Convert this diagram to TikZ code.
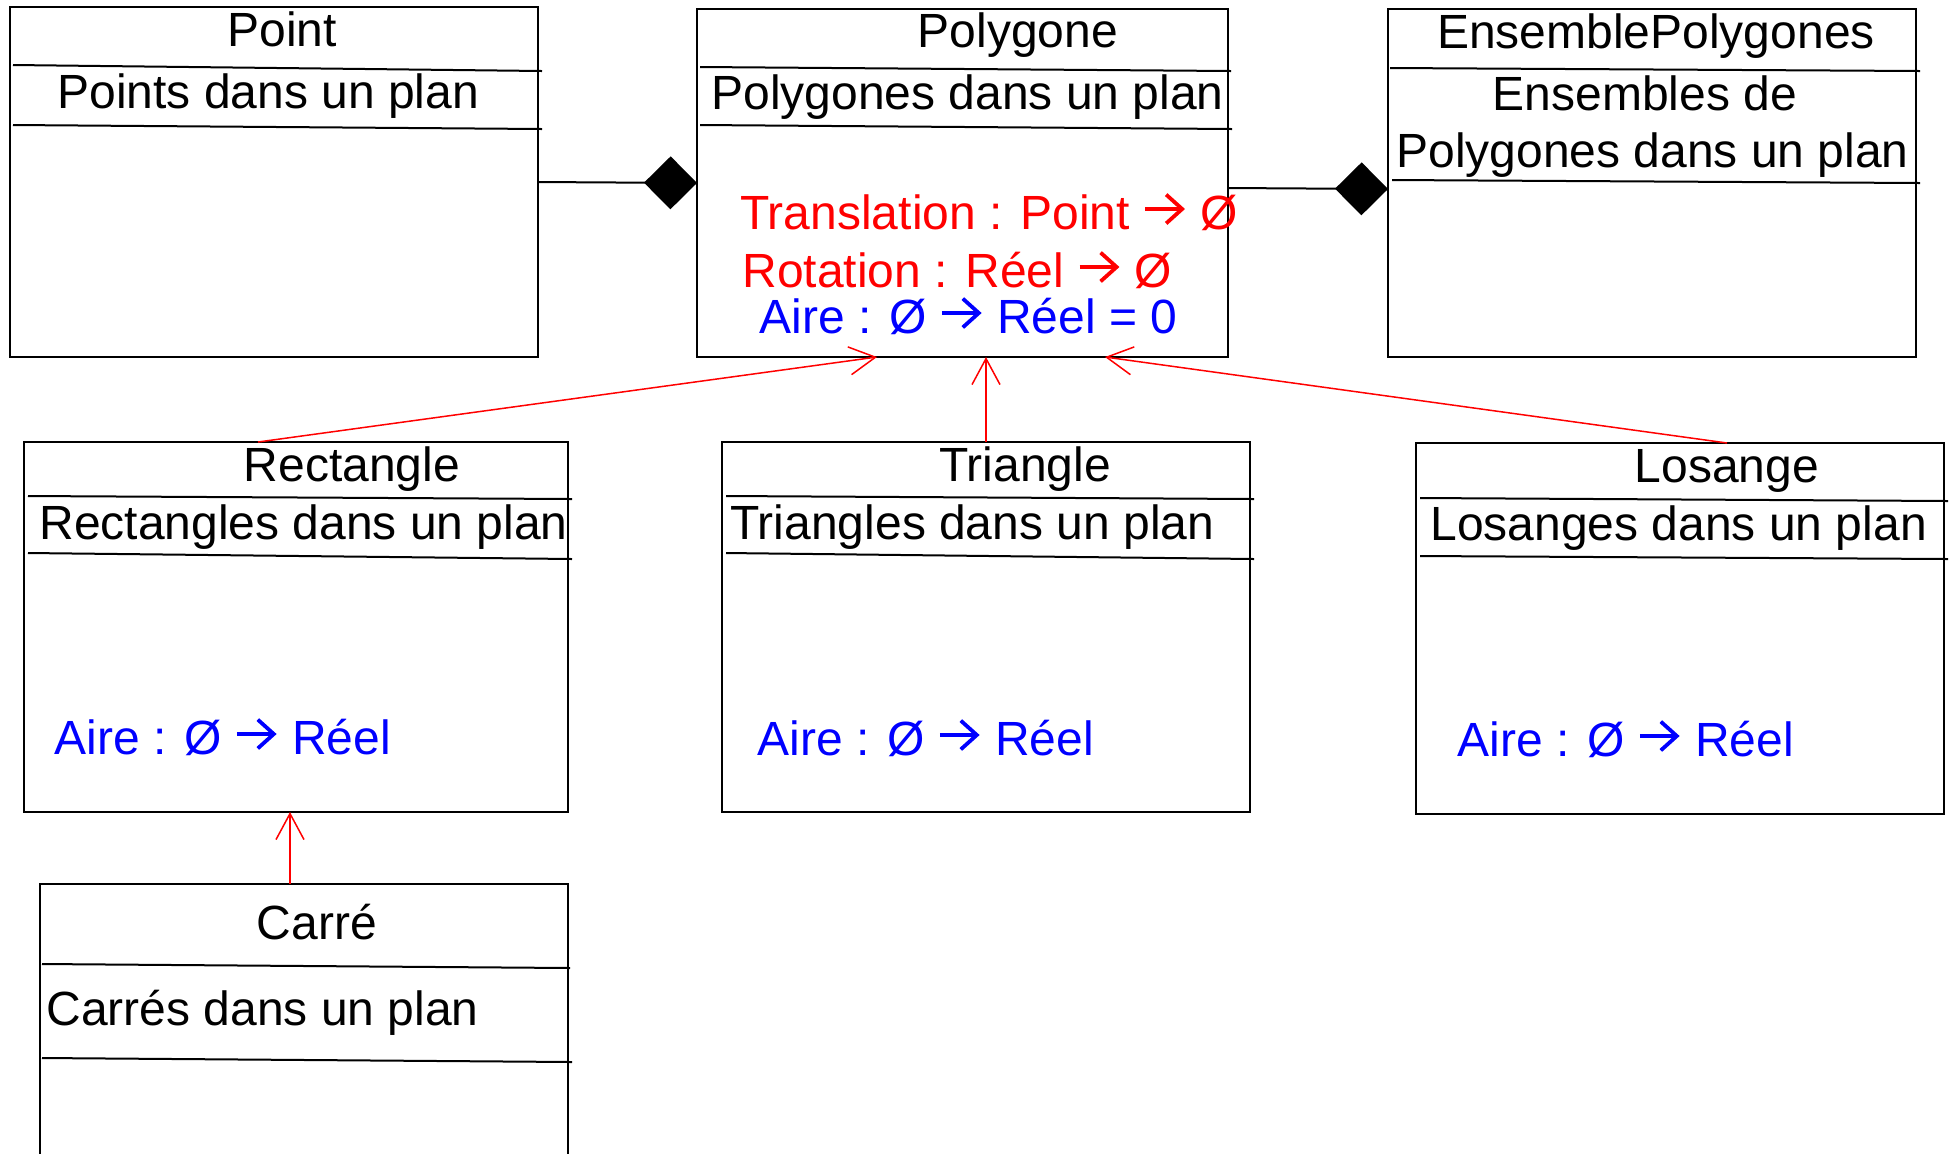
\documentclass[tikz,border=0pt]{standalone}
\usepackage{fontspec}
\setmainfont{Liberation Sans}
\usetikzlibrary{arrows.meta,calc}
\newcommand{\rarr}{\tikz[baseline=0pt,x=1pt,y=1pt]{\draw[line width=1.9pt] (0,10) -- (18,10); \draw[line width=1.9pt, miter limit=10] (10.5,2.8) -- (18.5,10) -- (10.5,17.2);}\kern1.5pt}
\definecolor{umlred}{RGB}{255,0,0}
\definecolor{umlblue}{RGB}{0,0,255}
\begin{document}
\begin{tikzpicture}[x=0.5pt,y=-0.5pt,
  umlbox/.style={draw, line width=1pt, anchor=north west, inner sep=0pt, outer sep=0pt},
  sepline/.style={line width=1pt},
  txt/.style={inner sep=0pt, font=\fontsize{24}{28}\selectfont},
  ttl/.style={txt, anchor=base},
  lbl/.style={txt, anchor=base west},
  redop/.style={lbl, text=umlred},
  blueop/.style={lbl, text=umlblue},
  compo/.style={line width=1pt, -{Diamond[length=26.5pt,width=26.5pt]}},
  inherit/.style={draw=umlred, line width=0.75pt, -{Straight Barb[length=13pt,width=14pt]}}
]
\useasboundingbox (0,0) rectangle (1954,1153);
\clip (0,0) rectangle (1954,1153);
\fill[white] (0,0) rectangle (1954,1153);

% boxes
\node[umlbox, minimum width=264pt, minimum height=175pt] (point) at (10,7) {};
\node[umlbox, minimum width=265.5pt, minimum height=174pt] (poly) at (697,9) {};
\node[umlbox, minimum width=264pt, minimum height=174pt] (ens) at (1388,9) {};
\node[umlbox, minimum width=272pt, minimum height=185pt] (rect) at (24,442) {};
\node[umlbox, minimum width=264pt, minimum height=185pt] (tri) at (722,442) {};
\node[umlbox, minimum width=264pt, minimum height=185.5pt] (los) at (1416,443) {};
\node[umlbox, minimum width=264pt, minimum height=150pt] (carre) at (40,884) {};

% separator lines
\draw[sepline] (13,65) -- (542,71);   \draw[sepline] (13,125) -- (542,129);
\draw[sepline] (700,67) -- (1231,71); \draw[sepline] (700,125) -- (1232,129);
\draw[sepline] (1390,68) -- (1920,71); \draw[sepline] (1392,180) -- (1920,183);
\draw[sepline] (28,496) -- (572,499); \draw[sepline] (28,553) -- (572,559);
\draw[sepline] (726,496) -- (1254,499); \draw[sepline] (726,553) -- (1254,559);
\draw[sepline] (1420,498) -- (1948,501); \draw[sepline] (1420,556) -- (1948,559);
\draw[sepline] (42,964) -- (570,968); \draw[sepline] (42,1058) -- (572,1062);

% texts
\node[ttl] (pointT) at (282,46) {Point};
\node[lbl] (pointA) at (57,108) {Points dans un plan};

\node[ttl] (polyT) at (1018,47) {Polygone};
\node[lbl] (polyA) at (711,109) {Polygones dans un plan};
\node[redop] (polyO1) at (740,229) {Translation : Point \rarr{} Ø};
\node[redop] (polyO2) at (742,287) {Rotation : Réel \rarr{} Ø};
\node[blueop] (polyO3) at (759,333) {Aire : Ø \rarr{} Réel = 0};

\node[ttl] (ensT) at (1656,48) {EnsemblePolygones};
\node[ttl] (ensA1) at (1645,110) {Ensembles de};
\node[lbl] (ensA2) at (1396,167) {Polygones dans un plan};

\node[ttl] (rectT) at (352,481) {Rectangle};
\node[lbl] (rectA) at (39,539) {Rectangles dans un plan};
\node[blueop] (rectO) at (54,754) {Aire : Ø \rarr{} Réel};

\node[ttl] (triT) at (1025,481) {Triangle};
\node[lbl] (triA) at (730,539) {Triangles dans un plan};
\node[blueop] (triO) at (757,755) {Aire : Ø \rarr{} Réel};

\node[ttl] (losT) at (1727,482) {Losange};
\node[lbl] (losA) at (1430,540) {Losanges dans un plan};
\node[blueop] (losO) at (1457,756) {Aire : Ø \rarr{} Réel};

\node[ttl] (carreT) at (317,939) {Carré};
\node[lbl] (carreA) at (46,1025) {Carrés dans un plan};

% composition connectors
\draw[compo] (point.east) -- (poly.west);
\draw[compo] ($(poly.east)+(0,5)$) -- ($(ens.west)+(0,6)$);

% inheritance connectors
\draw[inherit] ($(rect.north west)+(234,0)$) -- ($(poly.south west)+(180,0)$);
\draw[inherit] ($(tri.north west)+(264,0)$) -- ($(poly.south west)+(289,0)$);
\draw[inherit] ($(los.north west)+(311,0)$) -- ($(poly.south west)+(408,0)$);
\draw[inherit] ($(carre.north west)+(250,0)$) -- ($(rect.south west)+(266,0)$);
\end{tikzpicture}
\end{document}
